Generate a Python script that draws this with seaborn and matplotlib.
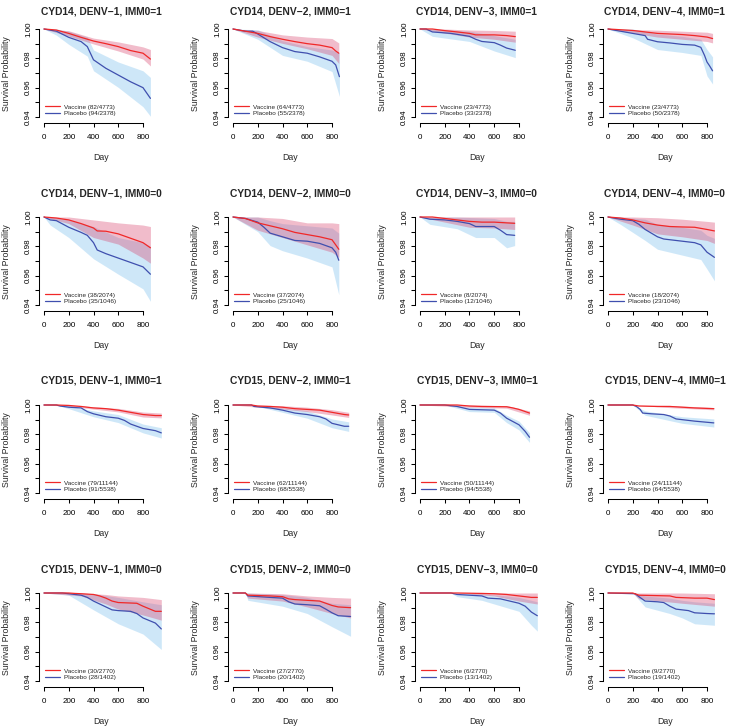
import numpy as np
import matplotlib
matplotlib.use("Agg")
import matplotlib.pyplot as plt
from matplotlib.lines import Line2D
import seaborn as sns

# panel titles and group sizes (row-major, 4 x 4)
titles = [
    "CYD14, DENV\u22121, IMM0=1", "CYD14, DENV\u22122, IMM0=1", "CYD14, DENV\u22123, IMM0=1", "CYD14, DENV\u22124, IMM0=1",
    "CYD14, DENV\u22121, IMM0=0", "CYD14, DENV\u22122, IMM0=0", "CYD14, DENV\u22123, IMM0=0", "CYD14, DENV\u22124, IMM0=0",
    "CYD15, DENV\u22121, IMM0=1", "CYD15, DENV\u22122, IMM0=1", "CYD15, DENV\u22123, IMM0=1", "CYD15, DENV\u22124, IMM0=1",
    "CYD15, DENV\u22121, IMM0=0", "CYD15, DENV\u22122, IMM0=0", "CYD15, DENV\u22123, IMM0=0", "CYD15, DENV\u22124, IMM0=0",
]
vac_counts = ["82/4773", "64/4773", "23/4773", "23/4773",
              "38/2074", "37/2074", "8/2074", "18/2074",
              "79/11144", "62/11144", "50/11144", "24/11144",
              "30/2770", "27/2770", "6/2770", "9/2770"]
pla_counts = ["94/2378", "55/2378", "33/2378", "50/2378",
              "35/1046", "25/1046", "12/1046", "23/1046",
              "91/5538", "68/5538", "94/5538", "64/5538",
              "28/1402", "20/1402", "13/1402", "19/1402"]

# vaccine survival curves (day, survival probability)
vac_days = [
    [0, 100, 200, 300, 400, 500, 600, 700, 800, 860],
    [0, 100, 200, 300, 400, 500, 600, 700, 800, 830, 855],
    [0, 100, 200, 300, 400, 450, 600, 700, 770],
    [0, 200, 400, 600, 700, 800, 845],
    [0, 100, 200, 300, 400, 430, 500, 600, 700, 800, 860],
    [0, 100, 200, 300, 400, 500, 600, 700, 800, 830, 855],
    [0, 100, 150, 200, 300, 400, 500, 600, 700, 765],
    [0, 100, 200, 300, 400, 500, 600, 700, 800, 860],
    [0, 100, 200, 300, 400, 500, 600, 700, 800, 900, 948],
    [0, 150, 200, 300, 400, 500, 600, 700, 800, 900, 935],
    [0, 300, 400, 500, 700, 750, 800, 885],
    [0, 200, 250, 400, 500, 600, 700, 855],
    [0, 200, 250, 300, 400, 450, 500, 550, 600, 750, 800, 900, 948],
    [0, 100, 120, 300, 400, 450, 500, 600, 700, 750, 800, 850, 950],
    [0, 300, 500, 600, 700, 800, 900, 948],
    [0, 200, 250, 500, 550, 700, 800, 860],
]
vac_surv = [
    [1.0, 0.9993, 0.997, 0.9943, 0.9918, 0.990, 0.988, 0.9853, 0.9835, 0.9795],
    [1.0, 0.9985, 0.997, 0.9948, 0.993, 0.9914, 0.990, 0.989, 0.9873, 0.985, 0.9835],
    [1.0, 1.0, 0.9989, 0.998, 0.997, 0.996, 0.996, 0.9955, 0.9948],
    [1.0, 0.999, 0.997, 0.9962, 0.9955, 0.9945, 0.9935],
    [1.0, 0.9993, 0.998, 0.9955, 0.9925, 0.9905, 0.9903, 0.9885, 0.9855, 0.9825, 0.979],
    [1.0, 0.999, 0.996, 0.994, 0.992, 0.9895, 0.988, 0.9865, 0.9845, 0.981, 0.978],
    [1.0, 1.0, 0.9995, 0.999, 0.998, 0.997, 0.9965, 0.9965, 0.996, 0.9957],
    [1.0, 0.9993, 0.998, 0.996, 0.9945, 0.9935, 0.9932, 0.993, 0.9915, 0.9905],
    [1.0, 1.0, 0.9997, 0.999, 0.998, 0.9975, 0.9965, 0.995, 0.9935, 0.9928, 0.9928],
    [1.0, 1.0, 0.9993, 0.999, 0.9985, 0.9975, 0.997, 0.9965, 0.995, 0.9935, 0.9932],
    [1.0, 1.0, 0.9993, 0.999, 0.9988, 0.998, 0.997, 0.9945],
    [1.0, 1.0, 0.9993, 0.999, 0.999, 0.9985, 0.998, 0.9975],
    [1.0, 1.0, 0.9997, 0.9995, 0.999, 0.998, 0.9965, 0.9945, 0.9935, 0.993, 0.991, 0.9875, 0.9875],
    [1.0, 1.0, 0.9985, 0.998, 0.9975, 0.996, 0.9955, 0.995, 0.9945, 0.993, 0.9915, 0.9905, 0.99],
    [1.0, 1.0, 0.9997, 0.9995, 0.999, 0.998, 0.997, 0.997],
    [1.0, 1.0, 0.9985, 0.998, 0.997, 0.9965, 0.9965, 0.9955],
]
# vaccine confidence bands
vac_ci_days = [
    [0, 200, 400, 600, 800, 860],
    [0, 200, 400, 600, 800, 855],
    [0, 200, 400, 600, 770],
    [0, 400, 800, 845],
    [0, 200, 400, 600, 800, 860],
    [0, 200, 400, 600, 800, 855],
    [0, 200, 400, 600, 765],
    [0, 200, 400, 600, 800, 860],
    [0, 200, 400, 600, 800, 948],
    [0, 200, 400, 600, 800, 935],
    [0, 400, 700, 885],
    [0, 200, 500, 855],
    [0, 300, 500, 600, 800, 948],
    [0, 100, 120, 400, 600, 800, 950],
    [0, 300, 600, 800, 948],
    [0, 200, 250, 600, 860],
]
vac_ci_lo = [
    [1.0, 0.9952, 0.9898, 0.985, 0.9795, 0.9748],
    [1.0, 0.9945, 0.9902, 0.9865, 0.982, 0.9765],
    [1.0, 0.9972, 0.9945, 0.993, 0.991],
    [1.0, 0.9945, 0.9915, 0.9905],
    [1.0, 0.9955, 0.986, 0.9815, 0.972, 0.9685],
    [1.0, 0.991, 0.986, 0.981, 0.976, 0.9725],
    [1.0, 0.9965, 0.993, 0.9925, 0.9915],
    [1.0, 0.9945, 0.9885, 0.9865, 0.984, 0.982],
    [1.0, 0.9992, 0.9972, 0.9953, 0.9918, 0.9912],
    [1.0, 0.9985, 0.9973, 0.9955, 0.9932, 0.9915],
    [1.0, 0.9985, 0.9978, 0.993],
    [1.0, 1.0, 0.9982, 0.9967],
    [1.0, 0.998, 0.9925, 0.989, 0.985, 0.9815],
    [1.0, 1.0, 0.9965, 0.9945, 0.9905, 0.986, 0.983],
    [1.0, 1.0, 0.998, 0.9945, 0.9925],
    [1.0, 1.0, 0.996, 0.993, 0.991],
]
vac_ci_hi = [
    [1.0, 0.9988, 0.9938, 0.9912, 0.9878, 0.986],
    [1.0, 0.999, 0.996, 0.9945, 0.9935, 0.9905],
    [1.0, 1.0, 0.9993, 0.999, 0.9985],
    [1.0, 0.9992, 0.9978, 0.997],
    [1.0, 1.0, 0.998, 0.996, 0.9945, 0.9935],
    [1.0, 1.0, 0.999, 0.996, 0.996, 0.9955],
    [1.0, 1.0, 1.0, 1.0, 1.0],
    [1.0, 1.0, 0.9995, 0.9985, 0.997, 0.9965],
    [1.0, 1.0, 0.9988, 0.9977, 0.9952, 0.9945],
    [1.0, 1.0, 0.9995, 0.9985, 0.9968, 0.995],
    [1.0, 1.0, 0.9996, 0.996],
    [1.0, 1.0, 0.9997, 0.9983],
    [1.0, 1.0, 0.999, 0.998, 0.997, 0.9955],
    [1.0, 1.0, 1.0, 0.9995, 0.998, 0.997, 0.9965],
    [1.0, 1.0, 1.0, 1.0, 1.0],
    [1.0, 1.0, 1.0, 1.0, 0.9995],
]

# placebo survival curves
pla_days = [
    [0, 100, 200, 300, 350, 400, 500, 600, 700, 800, 860],
    [0, 100, 160, 200, 300, 400, 500, 600, 700, 800, 830, 860],
    [0, 50, 100, 250, 400, 450, 500, 600, 650, 700, 770],
    [0, 100, 200, 300, 320, 400, 500, 600, 700, 750, 780, 800, 820, 845],
    [0, 50, 100, 200, 300, 350, 400, 430, 500, 600, 700, 800, 860],
    [0, 100, 200, 250, 300, 400, 500, 600, 700, 800, 830, 855],
    [0, 80, 200, 300, 400, 450, 600, 650, 700, 765],
    [0, 100, 200, 250, 300, 400, 450, 600, 700, 750, 800, 860],
    [0, 100, 130, 200, 300, 350, 400, 500, 600, 650, 700, 800, 900, 948],
    [0, 150, 170, 300, 400, 500, 600, 700, 750, 800, 900, 935],
    [0, 200, 300, 400, 600, 650, 700, 800, 850, 885],
    [0, 200, 230, 260, 280, 350, 450, 500, 550, 600, 700, 855],
    [0, 150, 200, 300, 350, 400, 450, 500, 550, 600, 700, 750, 800, 900, 948],
    [0, 100, 120, 300, 400, 450, 500, 600, 700, 750, 800, 850, 950],
    [0, 250, 300, 400, 500, 550, 650, 700, 800, 850, 900, 948],
    [0, 220, 250, 300, 400, 450, 500, 550, 650, 700, 800, 860],
]
pla_surv = [
    [1.0, 0.9985, 0.9943, 0.9914, 0.988, 0.979, 0.9732, 0.9686, 0.964, 0.960, 0.9527],
    [1.0, 0.9985, 0.9985, 0.9966, 0.9914, 0.9873, 0.9846, 0.9835, 0.981, 0.978, 0.9755, 0.9675],
    [1.0, 1.0, 0.998, 0.997, 0.995, 0.993, 0.9915, 0.9907, 0.989, 0.987, 0.9855],
    [1.0, 0.9985, 0.997, 0.9955, 0.993, 0.9913, 0.9905, 0.9895, 0.989, 0.9875, 0.982, 0.9775, 0.975, 0.9715],
    [1.0, 0.998, 0.9975, 0.993, 0.9895, 0.9875, 0.9825, 0.9775, 0.975, 0.972, 0.969, 0.966, 0.961],
    [1.0, 0.999, 0.9965, 0.993, 0.989, 0.9865, 0.984, 0.9835, 0.982, 0.979, 0.976, 0.9705],
    [1.0, 0.9985, 0.998, 0.997, 0.9955, 0.9935, 0.9935, 0.991, 0.988, 0.9875],
    [1.0, 0.9985, 0.9975, 0.995, 0.9915, 0.9865, 0.985, 0.9835, 0.9825, 0.981, 0.976, 0.9725],
    [1.0, 1.0, 0.9993, 0.9985, 0.998, 0.9955, 0.994, 0.992, 0.991, 0.9895, 0.987, 0.984, 0.9825, 0.981],
    [1.0, 1.0, 0.999, 0.998, 0.9965, 0.9945, 0.9935, 0.992, 0.9905, 0.9875, 0.9855, 0.9855],
    [1.0, 1.0, 0.999, 0.997, 0.9965, 0.9945, 0.991, 0.9865, 0.982, 0.978],
    [1.0, 1.0, 0.999, 0.997, 0.9945, 0.994, 0.9935, 0.9925, 0.9905, 0.99, 0.989, 0.9878],
    [1.0, 1.0, 0.9995, 0.9985, 0.997, 0.9945, 0.9925, 0.9905, 0.9885, 0.988, 0.9875, 0.986, 0.983, 0.9795, 0.9755],
    [1.0, 1.0, 0.998, 0.997, 0.9965, 0.994, 0.9925, 0.992, 0.9913, 0.989, 0.9865, 0.9845, 0.984],
    [1.0, 1.0, 0.999, 0.9985, 0.998, 0.9965, 0.996, 0.995, 0.993, 0.991, 0.987, 0.9845],
    [1.0, 0.9995, 0.9975, 0.9945, 0.994, 0.9935, 0.991, 0.989, 0.988, 0.9865, 0.986, 0.9858],
]
# placebo confidence bands
pla_ci_days = [
    [0, 100, 200, 350, 400, 600, 800, 860],
    [0, 200, 400, 600, 800, 860],
    [0, 100, 400, 600, 770],
    [0, 200, 400, 600, 750, 800, 845],
    [0, 50, 200, 400, 600, 800, 860],
    [0, 200, 300, 400, 600, 800, 855],
    [0, 80, 300, 450, 600, 700, 765],
    [0, 100, 300, 400, 600, 750, 800, 860],
    [0, 100, 200, 400, 600, 800, 948],
    [0, 150, 400, 600, 800, 935],
    [0, 200, 400, 600, 700, 800, 885],
    [0, 200, 300, 600, 855],
    [0, 200, 400, 600, 800, 948],
    [0, 100, 120, 400, 600, 800, 950],
    [0, 250, 300, 500, 700, 800, 900, 948],
    [0, 200, 300, 500, 600, 700, 860],
]
pla_ci_lo = [
    [1.0, 0.9958, 0.9895, 0.9815, 0.9715, 0.9602, 0.947, 0.9405],
    [1.0, 0.993, 0.982, 0.978, 0.971, 0.954],
    [1.0, 0.995, 0.9915, 0.985, 0.9805],
    [1.0, 0.994, 0.986, 0.984, 0.982, 0.968, 0.9625],
    [1.0, 0.9945, 0.986, 0.9715, 0.961, 0.951, 0.9425],
    [1.0, 0.990, 0.9805, 0.977, 0.972, 0.966, 0.947],
    [1.0, 0.995, 0.992, 0.986, 0.986, 0.979, 0.9805],
    [1.0, 0.995, 0.984, 0.978, 0.974, 0.971, 0.9645, 0.9565],
    [1.0, 1.0, 0.9975, 0.992, 0.988, 0.981, 0.9775],
    [1.0, 1.0, 0.995, 0.991, 0.9845, 0.982],
    [1.0, 1.0, 0.9955, 0.995, 0.988, 0.983, 0.9745],
    [1.0, 1.0, 0.993, 0.9875, 0.985],
    [1.0, 0.9985, 0.9885, 0.979, 0.972, 0.9615],
    [1.0, 1.0, 0.995, 0.991, 0.986, 0.977, 0.9705],
    [1.0, 1.0, 0.9975, 0.995, 0.990, 0.9875, 0.978, 0.974],
    [1.0, 1.0, 0.9905, 0.986, 0.983, 0.979, 0.978],
]
pla_ci_hi = [
    [1.0, 1.0, 0.9985, 0.9945, 0.9857, 0.9775, 0.9715, 0.967],
    [1.0, 0.9995, 0.992, 0.988, 0.9857, 0.9835],
    [1.0, 1.0, 0.9985, 0.9955, 0.993],
    [1.0, 1.0, 0.9965, 0.995, 0.993, 0.986, 0.981],
    [1.0, 1.0, 0.998, 0.9935, 0.986, 0.9825, 0.980],
    [1.0, 1.0, 0.9975, 0.9955, 0.994, 0.9925, 0.989],
    [1.0, 1.0, 1.0, 0.9995, 0.999, 0.997, 0.997],
    [1.0, 1.0, 0.9985, 0.995, 0.993, 0.991, 0.9875, 0.9855],
    [1.0, 1.0, 0.9995, 0.996, 0.9935, 0.987, 0.9845],
    [1.0, 1.0, 0.998, 0.996, 0.9905, 0.9885],
    [1.0, 1.0, 0.9985, 0.998, 0.993, 0.989, 0.981],
    [1.0, 1.0, 0.996, 0.992, 0.9905],
    [1.0, 1.0, 0.9995, 0.997, 0.994, 0.992],
    [1.0, 1.0, 1.0, 0.999, 0.997, 0.993, 0.992],
    [1.0, 1.0, 1.0, 0.9995, 0.998, 0.997, 0.995, 0.994],
    [1.0, 1.0, 0.998, 0.9965, 0.995, 0.994, 0.993],
]

VAC_COL = "#F02828"
PLA_COL = "#3F4FAE"
VAC_FILL = "#D8406A"
PLA_FILL = "#8CC8F0"

sns.set_theme(style="ticks")
plt.rcParams["font.family"] = ["Liberation Sans", "DejaVu Sans"]
plt.rcParams["axes.edgecolor"] = "black"
plt.rcParams["xtick.color"] = "black"
plt.rcParams["ytick.color"] = "black"

W, H = 729, 727
fig = plt.figure(figsize=(W / 100, H / 100), dpi=100)
fig.patch.set_facecolor("white")

# layout in pixels
col_x0 = [44, 233, 420, 608]      # where day 0 sits
row_y100 = [29, 217, 405, 593]    # where survival 1.00 sits
title_y = [11, 193, 381, 569]
PX_DAY = 99 / 800
PX_SURV = 88 / 0.06
XLIM = (-40, 960)
YLIM = (0.94 - 6 / PX_SURV, 1.0025)

for i in range(16):
    r, c = divmod(i, 4)
    x0, y1 = col_x0[c], row_y100[r]
    left = x0 + XLIM[0] * PX_DAY
    width = (XLIM[1] - XLIM[0]) * PX_DAY
    top = y1 - (YLIM[1] - 1.0) * PX_SURV
    height = (YLIM[1] - YLIM[0]) * PX_SURV
    ax = fig.add_axes([left / W, 1 - (top + height) / H, width / W, height / H])
    ax.set_facecolor("white")

    ax.fill_between(pla_ci_days[i], pla_ci_lo[i], pla_ci_hi[i], color=PLA_FILL, alpha=0.42, lw=0)
    ax.fill_between(vac_ci_days[i], vac_ci_lo[i], vac_ci_hi[i], color=VAC_FILL, alpha=0.35, lw=0)
    sns.lineplot(x=pla_days[i], y=pla_surv[i], ax=ax, color=PLA_COL, lw=0.9,
                 estimator=None, sort=False)
    sns.lineplot(x=vac_days[i], y=vac_surv[i], ax=ax, color=VAC_COL, lw=0.9,
                 estimator=None, sort=False)

    ax.set_xlim(*XLIM)
    ax.set_ylim(*YLIM)
    for s in ["top", "right"]:
        ax.spines[s].set_visible(False)
    ax.spines["left"].set_bounds(0.94, 1.0)
    ax.spines["bottom"].set_bounds(0, 800)
    ax.spines["left"].set_linewidth(0.75)
    ax.spines["bottom"].set_linewidth(0.75)

    ax.set_xticks([0, 200, 400, 600, 800])
    ax.set_xticklabels(["0", "200", "400", "600", "800"])
    ax.set_yticks([0.94, 0.95, 0.96, 0.97, 0.98, 0.99, 1.00])
    ax.set_yticklabels(["0.94", "", "0.96", "", "0.98", "", "1.00"],
                       rotation=90, va="center")
    ax.tick_params(axis="both", length=3, width=0.75, labelsize=5.8)
    ax.tick_params(axis="x", pad=5)
    ax.tick_params(axis="y", pad=2)
    ax.set_xlabel("")
    ax.set_ylabel("")

    handles = [Line2D([], [], color=VAC_COL, lw=0.9), Line2D([], [], color=PLA_COL, lw=0.9)]
    labels = [f"Vaccine ({vac_counts[i]})", f"Placebo ({pla_counts[i]})"]
    lx = (x0 + 1 - left) / width
    ax.legend(handles, labels, loc="center left",
              bbox_to_anchor=(lx, 1 - (y1 + 81 - top) / height),
              frameon=False, fontsize=4.6, handlelength=2.3, handletextpad=0.7,
              labelspacing=0.1, borderpad=0, borderaxespad=0)

    cx = left + width / 2
    fig.text(cx / W, 1 - title_y[r] / H, titles[i], ha="center", va="center",
             fontsize=7.4, fontweight="bold")
    fig.text(cx / W, 1 - (y1 + 128) / H, "Day", ha="center", va="center", fontsize=6.3)
    fig.text((left - 33) / W, 1 - (y1 + 45) / H, "Survival Probability",
             ha="center", va="center", rotation=90, fontsize=6.3)

fig.savefig("out.png", dpi=100, facecolor="white")
